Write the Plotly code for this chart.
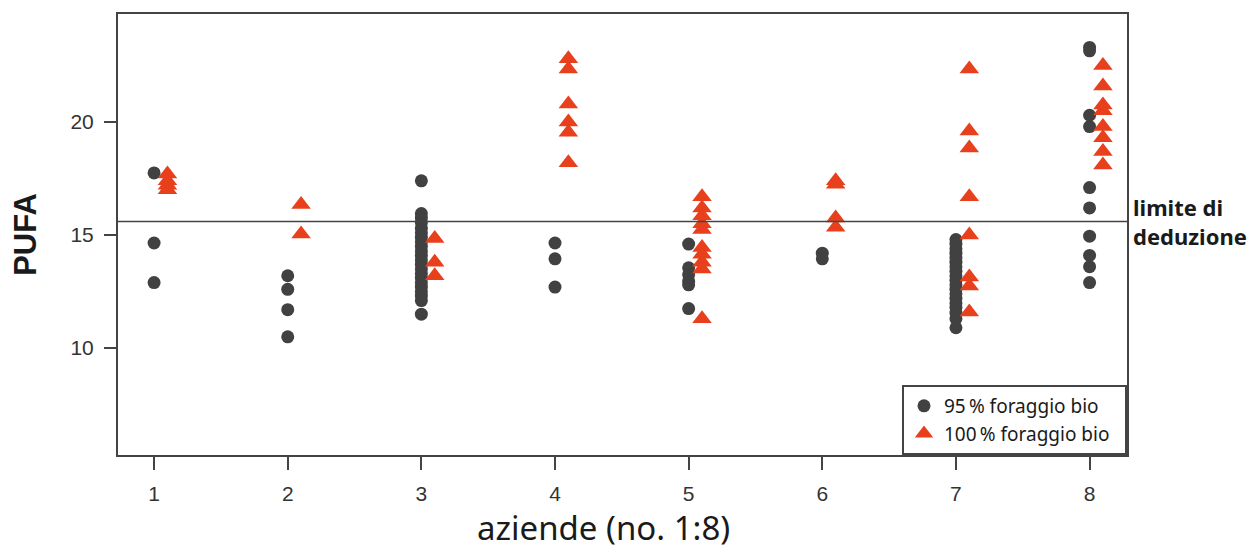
import plotly.graph_objects as go

farms = [1, 2, 3, 4, 5, 6, 7, 8]

pufa95 = {
    1: [17.75, 14.65, 12.9],
    2: [13.2, 12.6, 11.7, 10.5],
    3: [17.4, 15.95, 15.75, 15.55, 15.3, 15.1, 14.9, 14.7, 14.5, 14.3, 14.1, 13.9, 13.7,
        13.5, 13.3, 13.1, 12.9, 12.7, 12.5, 12.3, 12.1, 11.5],
    4: [14.65, 13.95, 12.7],
    5: [14.6, 13.55, 13.25, 12.95, 12.8, 11.75],
    6: [14.2, 13.95],
    7: [14.8, 14.6, 14.4, 14.2, 14.0, 13.8, 13.6, 13.4, 13.2, 13.0, 12.8, 12.6, 12.4,
        12.2, 12.0, 11.8, 11.55, 11.3, 10.9],
    8: [23.3, 23.15, 20.3, 19.8, 17.1, 16.2, 14.95, 14.1, 13.6, 12.9],
}

pufa100 = {
    1: [17.7, 17.4, 17.2, 17.0],
    2: [16.35, 15.05],
    3: [14.85, 13.8, 13.2],
    4: [22.8, 22.35, 20.8, 20.0, 19.55, 18.2],
    5: [16.7, 16.2, 15.85, 15.5, 15.25, 14.45, 14.15, 13.8, 13.5, 11.3],
    6: [17.4, 17.25, 15.75, 15.35],
    7: [22.35, 19.6, 18.85, 16.7, 15.0, 13.15, 12.75, 11.6],
    8: [22.5, 21.6, 20.75, 20.5, 19.8, 19.3, 18.7, 18.1],
}

limit_value = 15.6
label95 = "95\u2009% foraggio bio\u00a0\u00a0"
label100 = "100\u2009% foraggio bio\u00a0\u00a0"
x_title = "aziende (no. 1:8)"
y_title = "PUFA"
limit_label = "limite di<br>deduzione"
y_ticks = [10, 15, 20]

x95, y95, x100, y100 = [], [], [], []
for f in farms:
    for v in pufa95[f]:
        x95.append(f)
        y95.append(v)
    for v in pufa100[f]:
        x100.append(f + 0.1)
        y100.append(v)

fig = go.Figure()
fig.add_trace(go.Scatter(
    x=x95, y=y95, mode="markers", name=label95,
    marker=dict(symbol="circle", size=13, color="#414141"),
))
fig.add_trace(go.Scatter(
    x=x100, y=y100, mode="markers", name=label100,
    marker=dict(symbol="triangle-up", size=17, color="#E8401C"),
))

fig.add_shape(type="line", xref="paper", x0=0, x1=1, yref="y", y0=limit_value, y1=limit_value,
              line=dict(color="#444444", width=1.5))

fig.add_annotation(xref="paper", x=1.004, xanchor="left", yref="y", y=limit_value,
                   yanchor="middle", text=limit_label, showarrow=False, align="left",
                   font=dict(family="Noto Sans", size=22, color="#1a1a1a", weight="bold"))

# x-axis title placed slightly left of centre, as in the reference
fig.add_annotation(xref="paper", x=0.481, xanchor="center", yref="paper", y=-0.165,
                   yanchor="middle", text=x_title, showarrow=False,
                   font=dict(family="Noto Sans", size=33, color="#1a1a1a"))

fig.update_layout(
    width=1247, height=546,
    margin=dict(l=110, r=128, t=6, b=99, autoexpand=False),
    plot_bgcolor="white", paper_bgcolor="white",
    showlegend=True,
    legend=dict(x=1, xanchor="right", y=0, yanchor="bottom",
                bordercolor="#444444", borderwidth=2, bgcolor="white",
                font=dict(family="Noto Sans", size=19, color="#1a1a1a"),
                itemsizing="trace", tracegroupgap=2,
                ),
    font=dict(family="Liberation Sans, Arial", color="#222222"),
)

fig.update_xaxes(
    range=[0.73, 8.28], tickmode="array", tickvals=farms, ticktext=[str(f) for f in farms],
    showgrid=False, zeroline=False, showline=True, mirror=True, linecolor="#444444", linewidth=2,
    ticks="outside", ticklen=13, tickwidth=1.5, tickcolor="#444444", automargin=False,
    tickfont=dict(size=21, color="#333333"), ticklabelstandoff=6,
)
fig.update_yaxes(
    range=[5.27, 24.78], tickmode="array", tickvals=y_ticks,
    showgrid=False, zeroline=False, showline=True, mirror=True, linecolor="#444444", linewidth=2,
    ticks="outside", ticklen=12, tickwidth=1.5, tickcolor="#444444", automargin=False,
    tickfont=dict(size=21, color="#333333"), ticklabelstandoff=6,
    title=dict(text=y_title, font=dict(size=31, color="#1a1a1a", weight="bold"), standoff=30),
)

fig.write_html("out.html")
